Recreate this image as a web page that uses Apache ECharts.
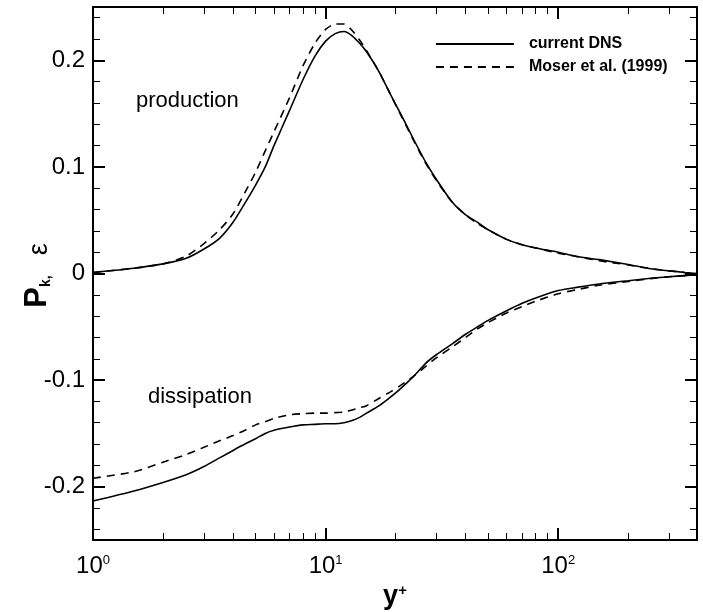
<!DOCTYPE html>
<html><head><meta charset="utf-8">
<script src="https://cdn.jsdelivr.net/npm/echarts@6/dist/echarts.min.js"></script>
<style>html,body{margin:0;padding:0;background:#fff}#c{width:703px;height:612px}</style>
</head><body><div id="c"></div>
<script>
// ---- data ----
const yPlus     = [1, 1.5, 2, 2.5, 3, 3.5, 4, 4.5, 5, 5.5, 6, 7, 8, 9, 10, 11, 12, 13, 14, 15, 17, 19, 21, 24, 27, 30, 35, 40, 45, 50, 60, 70, 80, 100, 120, 150, 200, 250, 300, 350, 395];
const prodDNS   = [0.001, 0.005, 0.009, 0.014, 0.023, 0.033, 0.048, 0.066, 0.083, 0.100, 0.120, 0.153, 0.182, 0.204, 0.218, 0.225, 0.227, 0.223, 0.216, 0.208, 0.189, 0.168, 0.150, 0.125, 0.104, 0.088, 0.067, 0.055, 0.048, 0.041, 0.032, 0.027, 0.024, 0.020, 0.016, 0.013, 0.0085, 0.0045, 0.0025, 0.001, 0.0];
const prodMoser = [0.001, 0.005, 0.009, 0.016, 0.028, 0.041, 0.056, 0.076, 0.095, 0.115, 0.133, 0.165, 0.195, 0.216, 0.229, 0.234, 0.234, 0.228, 0.219, 0.209, 0.189, 0.168, 0.149, 0.124, 0.103, 0.087, 0.067, 0.055, 0.047, 0.041, 0.032, 0.027, 0.024, 0.019, 0.016, 0.012, 0.008, 0.0045, 0.0025, 0.001, 0.0];
const dissDNS   = [-0.2134, -0.204, -0.196, -0.189, -0.181, -0.173, -0.166, -0.160, -0.155, -0.150, -0.147, -0.144, -0.142, -0.1415, -0.141, -0.141, -0.140, -0.138, -0.135, -0.131, -0.124, -0.116, -0.108, -0.096, -0.084, -0.076, -0.066, -0.057, -0.050, -0.044, -0.035, -0.028, -0.023, -0.016, -0.013, -0.0098, -0.0068, -0.0045, -0.003, -0.002, -0.0014];
const dissMoser = [-0.192, -0.186, -0.177, -0.170, -0.163, -0.157, -0.152, -0.147, -0.142, -0.139, -0.136, -0.1325, -0.1315, -0.131, -0.131, -0.1305, -0.130, -0.128, -0.126, -0.124, -0.117, -0.111, -0.105, -0.096, -0.087, -0.079, -0.069, -0.060, -0.052, -0.046, -0.037, -0.031, -0.026, -0.019, -0.0152, -0.011, -0.0075, -0.0048, -0.003, -0.002, -0.0014];
const seriesNames = ['current DNS', 'Moser et al. (1999)'];
const xMajorTicks = [1, 10, 100];
const xMinorTicks = [2, 3, 4, 5, 6, 7, 8, 9, 20, 30, 40, 50, 60, 70, 80, 90, 200, 300];
const yMajorTicks = [-0.2, -0.1, 0, 0.1, 0.2];
const yMinorTicks = [-0.24, -0.22, -0.18, -0.16, -0.14, -0.12, -0.08, -0.06, -0.04, -0.02, 0.02, 0.04, 0.06, 0.08, 0.12, 0.14, 0.16, 0.18, 0.22, 0.24];
const xRange = [1, 395];
const yRange = [-0.25, 0.25];

// ---- chart ----
const FONT = '"Liberation Sans", Arial, Helvetica, sans-serif';
const chart = echarts.init(document.getElementById('c'), null, {renderer: 'canvas'});

function xAxisDef(pos, ticks, len, w, withLabels, withLine) {
  return {
    type: 'log', logBase: 10, min: xRange[0], max: xRange[1], position: pos,
    axisLine: {show: withLine, onZero: false, lineStyle: {color: '#000', width: 2}},
    axisTick: {show: true, inside: true, length: len, customValues: ticks, lineStyle: {color: '#000', width: w}},
    axisLabel: withLabels ? {
      show: true, customValues: xMajorTicks, margin: 14,
      formatter: v => '{b|10}{s|' + Math.round(Math.log10(v)) + '}',
      rich: {
        b: {fontSize: 24, fontFamily: FONT, color: '#000', verticalAlign: 'bottom'},
        s: {fontSize: 13, fontFamily: FONT, color: '#000', verticalAlign: 'top'}
      }
    } : {show: false},
    splitLine: {show: false}, minorTick: {show: false}
  };
}
function yAxisDef(pos, ticks, len, w, withLabels, withLine) {
  return {
    type: 'value', min: yRange[0], max: yRange[1], position: pos,
    axisLine: {show: withLine, onZero: false, lineStyle: {color: '#000', width: 2}},
    axisTick: {show: true, inside: true, length: len, customValues: ticks, lineStyle: {color: '#000', width: w}},
    axisLabel: withLabels ? {
      show: true, customValues: yMajorTicks, margin: 8,
      fontSize: 24, fontFamily: FONT, color: '#000',
      formatter: v => (Math.abs(v) < 1e-9 ? '0' : String(Math.round(v * 10) / 10))
    } : {show: false},
    splitLine: {show: false}, minorTick: {show: false}
  };
}

const xAxes = [
  xAxisDef('bottom', xMajorTicks, 12, 2, true, true),
  xAxisDef('bottom', xMinorTicks, 7, 1, false, false),
  xAxisDef('top', xMajorTicks, 12, 2, false, true),
  xAxisDef('top', xMinorTicks, 7, 1, false, false)
];
xAxes[0].name = '{y|y}{p|+}';
xAxes[0].nameLocation = 'middle';
xAxes[0].nameGap = 38;
xAxes[0].nameTextStyle = {
  rich: {
    y: {fontSize: 27, fontWeight: 'bold', fontFamily: FONT, color: '#000', verticalAlign: 'bottom'},
    p: {fontSize: 15, fontWeight: 'bold', fontFamily: FONT, color: '#000', verticalAlign: 'top'}
  }
};

const yAxes = [
  yAxisDef('left', yMajorTicks, 12, 2, true, true),
  yAxisDef('left', yMinorTicks, 7, 1, false, false),
  yAxisDef('right', yMajorTicks, 12, 2, false, true),
  yAxisDef('right', yMinorTicks, 7, 1, false, false)
];
yAxes[0].name = '{p|P}{k|k,}{g| }{e|ε}';
yAxes[0].nameLocation = 'middle';
yAxes[0].nameRotate = 90;
yAxes[0].nameGap = 40;
yAxes[0].nameMoveOverlap = false;
yAxes[0].nameTextStyle = {
  padding: [0, 4, 0, 0],
  rich: {
    p: {fontSize: 31, fontWeight: 'bold', fontFamily: FONT, color: '#000', verticalAlign: 'top'},
    k: {fontSize: 14, fontWeight: 'bold', fontFamily: FONT, color: '#000', verticalAlign: 'bottom'},
    g: {fontSize: 14, width: 20},
    e: {fontSize: 27, fontFamily: FONT, color: '#000', verticalAlign: 'bottom'}
  }
};

function lineSeries(name, ys, dashed) {
  return {
    type: 'line', name: name, xAxisIndex: 0, yAxisIndex: 0,
    data: yPlus.map((x, i) => [x, ys[i]]),
    symbol: 'none', smooth: 0.25, silent: true, color: '#000',
    itemStyle: {color: '#000'},
    lineStyle: {color: '#000', width: 1.6, type: dashed ? [8, 6] : 'solid'},
    z: 3
  };
}

chart.setOption({
  backgroundColor: '#fff',
  animation: false,
  grid: {left: 93, right: 6, top: 7, bottom: 72, containLabel: false, outerBoundsMode: 'none'},
  xAxis: xAxes,
  yAxis: yAxes,
  legend: {
    data: seriesNames, orient: 'vertical', left: 435, top: 36,
    itemWidth: 78, itemHeight: 14, itemGap: 7, padding: 0, selectedMode: false,
    itemStyle: {opacity: 0},
    lineStyle: {color: '#000', width: 1.8},
    textStyle: {fontSize: 16, fontWeight: 'bold', fontFamily: FONT, color: '#000', padding: [0, 0, 0, 10]}
  },
  graphic: [
    {type: 'text', x: 136, y: 101, silent: true,
     style: {text: 'production', fontSize: 22, fontFamily: FONT, fill: '#000', verticalAlign: 'middle'}},
    {type: 'text', x: 148, y: 397, silent: true,
     style: {text: 'dissipation', fontSize: 22, fontFamily: FONT, fill: '#000', verticalAlign: 'middle'}}
  ],
  series: [
    lineSeries(seriesNames[0], prodDNS, false),
    lineSeries(seriesNames[1], prodMoser, true),
    lineSeries(seriesNames[0], dissDNS, false),
    lineSeries(seriesNames[1], dissMoser, true)
  ]
});
</script>
</body></html>
